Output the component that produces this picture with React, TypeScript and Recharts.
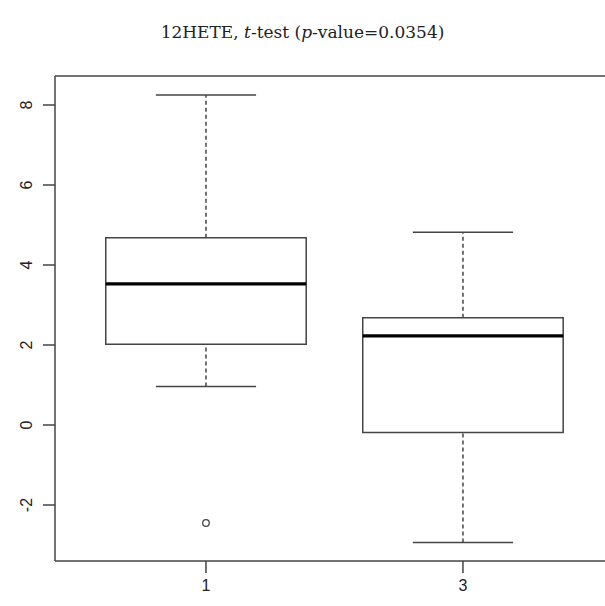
import React from 'react';
import { ComposedChart, XAxis, YAxis, Scatter, ReferenceArea, ReferenceLine } from 'recharts';

// Data
const groupNames = ['1', '3'];
const groupPositions = [1, 2];
const whiskerLow = [0.96, -2.94];
const q1 = [2.02, -0.19];
const median = [3.53, 2.23];
const q3 = [4.68, 2.68];
const whiskerHigh = [8.25, 4.82];
const outlierPosition = [1];
const outlierValue = [-2.45];
const yTicks = [-2, 0, 2, 4, 6, 8];

const X_DOMAIN: [number, number] = [0.4125, 2.65];
const Y_DOMAIN: [number, number] = [-3.4, 8.725];
const BOX_HALF = 0.39;
const CAP_HALF = 0.195;
const LINE = '#444';

const outliers = outlierPosition.map((x, i) => ({ x, y: outlierValue[i] }));

const YTick = (props: any) => {
  const { y, payload } = props;
  return (
    <text
      x={26}
      y={y}
      transform={`rotate(-90, 26, ${y})`}
      textAnchor="middle"
      dominantBaseline="central"
      fontFamily="Liberation Sans, Arial, sans-serif"
      fontSize={16}
      fill="#222"
    >
      {payload.value}
    </text>
  );
};

const XTick = (props: any) => {
  const { x, y, payload } = props;
  const idx = groupPositions.indexOf(payload.value);
  return (
    <text
      x={x}
      y={y}
      dy={16}
      textAnchor="middle"
      fontFamily="Liberation Sans, Arial, sans-serif"
      fontSize={16}
      fill="#222"
    >
      {idx >= 0 ? groupNames[idx] : ''}
    </text>
  );
};

const OutlierShape = (props: any) => {
  const { cx, cy } = props;
  return <circle cx={cx} cy={cy} r={3.3} fill="#fff" stroke={LINE} strokeWidth={1.3} />;
};

export default function App() {
  return (
    <div style={{ position: 'absolute', left: 0, top: 0, width: 605, height: 606, overflow: 'hidden', background: '#fff' }}>
      <div
        style={{
          position: 'absolute',
          left: 0,
          width: 605,
          top: 21,
          textAlign: 'center',
          fontFamily: 'DejaVu Serif, serif',
          fontSize: 17,
          color: '#222',
          lineHeight: '22px',
        }}
      >
        12HETE, <i>t</i>-test (<i>p</i>-value=0.0354)
      </div>
      <div style={{ position: 'absolute', left: 0, top: 0, width: 640 }}>
        <ComposedChart width={640} height={606} margin={{ top: 76, right: 10, bottom: 0, left: 0 }}>
          <XAxis
            type="number"
            dataKey="x"
            domain={X_DOMAIN}
            ticks={groupPositions}
            allowDataOverflow
            axisLine={{ stroke: LINE, strokeWidth: 1.5 }}
            tickSize={12}
            tickLine={{ stroke: LINE, strokeWidth: 1.5 }}
            tick={<XTick />}
            height={45}
            interval={0}
          />
          <YAxis
            type="number"
            dataKey="y"
            domain={Y_DOMAIN}
            ticks={yTicks}
            allowDataOverflow
            axisLine={{ stroke: LINE, strokeWidth: 1.5 }}
            tickSize={12}
            tickLine={{ stroke: LINE, strokeWidth: 1.5 }}
            tick={<YTick />}
            width={55}
            interval={0}
          />
          <ReferenceLine y={Y_DOMAIN[1]} stroke={LINE} strokeWidth={1.5} />
          {groupPositions.map((p, i) => (
            <ReferenceArea
              key={`box${i}`}
              x1={p - BOX_HALF}
              x2={p + BOX_HALF}
              y1={q1[i]}
              y2={q3[i]}
              fill="#fff"
              fillOpacity={1}
              stroke={LINE}
              strokeWidth={1.5}
            />
          ))}
          {groupPositions.map((p, i) => (
            <ReferenceLine
              key={`med${i}`}
              segment={[{ x: p - BOX_HALF, y: median[i] }, { x: p + BOX_HALF, y: median[i] }]}
              stroke="#000"
              strokeWidth={3.2}
            />
          ))}
          {groupPositions.map((p, i) => (
            <ReferenceLine
              key={`wu${i}`}
              segment={[{ x: p, y: q3[i] }, { x: p, y: whiskerHigh[i] }]}
              stroke={LINE}
              strokeWidth={1.5}
              strokeDasharray="4 3"
            />
          ))}
          {groupPositions.map((p, i) => (
            <ReferenceLine
              key={`wl${i}`}
              segment={[{ x: p, y: whiskerLow[i] }, { x: p, y: q1[i] }]}
              stroke={LINE}
              strokeWidth={1.5}
              strokeDasharray="4 3"
            />
          ))}
          {groupPositions.map((p, i) => (
            <ReferenceLine
              key={`cu${i}`}
              segment={[{ x: p - CAP_HALF, y: whiskerHigh[i] }, { x: p + CAP_HALF, y: whiskerHigh[i] }]}
              stroke={LINE}
              strokeWidth={1.5}
            />
          ))}
          {groupPositions.map((p, i) => (
            <ReferenceLine
              key={`cl${i}`}
              segment={[{ x: p - CAP_HALF, y: whiskerLow[i] }, { x: p + CAP_HALF, y: whiskerLow[i] }]}
              stroke={LINE}
              strokeWidth={1.5}
            />
          ))}
          <Scatter data={outliers} dataKey="y" shape={<OutlierShape />} isAnimationActive={false} />
        </ComposedChart>
      </div>
    </div>
  );
}
